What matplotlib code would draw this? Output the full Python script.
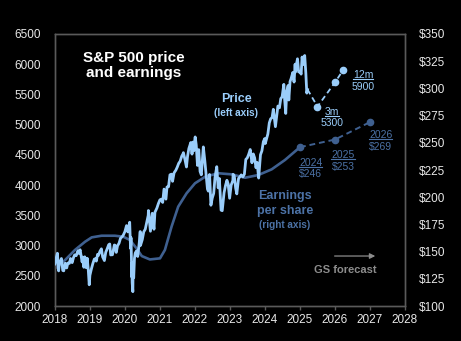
import matplotlib
matplotlib.use("Agg")
import matplotlib.pyplot as plt
import pandas as pd
import numpy as np
from matplotlib.lines import Line2D

plt.rcParams['font.family'] = ['Liberation Sans', 'DejaVu Sans']

# ---------------- data ----------------
price_dates = [
 "2018-01-02","2018-01-12","2018-01-26","2018-02-08","2018-02-16","2018-02-27","2018-03-09","2018-03-23",
 "2018-04-02","2018-04-18","2018-05-03","2018-05-15","2018-05-31","2018-06-12","2018-06-29","2018-07-13",
 "2018-07-25","2018-08-10","2018-08-29","2018-09-07","2018-09-20","2018-10-11","2018-10-17","2018-10-29",
 "2018-11-07","2018-11-23","2018-12-03","2018-12-14","2018-12-24","2018-12-31",
 "2019-01-15","2019-01-31","2019-02-15","2019-02-28","2019-03-08","2019-03-21","2019-03-29","2019-04-15",
 "2019-04-30","2019-05-13","2019-05-31","2019-06-14","2019-06-28","2019-07-15","2019-07-26","2019-08-05",
 "2019-08-15","2019-08-23","2019-09-12","2019-09-19","2019-10-02","2019-10-15","2019-10-31","2019-11-15",
 "2019-11-29","2019-12-13","2019-12-31",
 "2020-01-17","2020-01-31","2020-02-19","2020-02-28","2020-03-04","2020-03-09","2020-03-12","2020-03-13",
 "2020-03-16","2020-03-23","2020-03-26","2020-04-01","2020-04-09","2020-04-17","2020-04-30","2020-05-13",
 "2020-05-29","2020-06-08","2020-06-11","2020-06-30","2020-07-15","2020-07-31","2020-08-14","2020-08-31",
 "2020-09-02","2020-09-23","2020-10-12","2020-10-30","2020-11-09","2020-11-30","2020-12-15","2020-12-31",
 "2021-01-15","2021-01-29","2021-02-12","2021-03-04","2021-03-15","2021-03-31","2021-04-15","2021-04-30",
 "2021-05-12","2021-05-28","2021-06-15","2021-06-30","2021-07-15","2021-07-30","2021-08-16","2021-08-31",
 "2021-09-02","2021-09-17","2021-10-04","2021-10-15","2021-10-29","2021-11-18","2021-12-01","2021-12-10",
 "2021-12-20","2021-12-31",
 "2022-01-03","2022-01-14","2022-01-27","2022-02-09","2022-02-23","2022-03-08","2022-03-29","2022-04-14",
 "2022-04-29","2022-05-11","2022-05-20","2022-06-02","2022-06-16","2022-06-30","2022-07-15","2022-07-29",
 "2022-08-16","2022-08-31","2022-09-12","2022-09-30","2022-10-12","2022-10-31","2022-11-15","2022-11-30",
 "2022-12-13","2022-12-28",
 "2023-01-13","2023-01-31","2023-02-02","2023-02-15","2023-03-01","2023-03-13","2023-03-31","2023-04-14",
 "2023-04-28","2023-05-15","2023-05-31","2023-06-15","2023-06-30","2023-07-14","2023-07-31","2023-08-18",
 "2023-09-01","2023-09-15","2023-09-29","2023-10-11","2023-10-27","2023-11-15","2023-11-30","2023-12-15",
 "2023-12-29",
 "2024-01-04","2024-01-31","2024-02-15","2024-02-29","2024-03-15","2024-03-28","2024-04-19","2024-05-15",
 "2024-05-31","2024-06-14","2024-06-28","2024-07-16","2024-07-24","2024-08-05","2024-08-15","2024-08-30",
 "2024-09-06","2024-09-19","2024-09-30","2024-10-18","2024-10-31","2024-11-11","2024-11-15","2024-11-29",
 "2024-12-06","2024-12-18","2024-12-31",
 "2025-01-13","2025-01-23","2025-02-03","2025-02-19","2025-03-03","2025-03-13","2025-03-21",
]
price_values = [
 2695,2786,2873,2581,2732,2744,2786,2588,
 2582,2708,2630,2711,2705,2786,2718,2801,
 2846,2833,2914,2872,2931,2728,2809,2641,
 2814,2633,2790,2600,2351,2507,
 2610,2704,2776,2784,2743,2855,2834,2905,
 2946,2812,2752,2887,2942,3014,3026,2845,
 2848,2847,3009,3006,2887,2996,3038,3120,
 3141,3169,3231,
 3330,3226,3386,2954,3130,2747,2481,2711,
 2386,2237,2630,2470,2790,2875,2912,2820,
 3044,3232,3002,3100,3227,3271,3373,3500,
 3580,3237,3534,3270,3550,3622,3694,3756,
 3768,3714,3934,3768,3969,3973,4170,4181,
 4063,4204,4246,4298,4360,4395,4479,4523,
 4537,4433,4300,4471,4605,4704,4513,4712,
 4568,4766,
 4797,4663,4326,4587,4226,4170,4632,4393,
 4132,3935,3901,4176,3667,3785,3863,4130,
 4305,3955,4110,3586,3577,3872,3992,4080,
 4019,3783,
 3999,4077,4179,4148,3951,3855,4109,4137,
 4169,4136,4180,4426,4450,4505,4589,4370,
 4516,4450,4288,4376,4117,4502,4568,4719,
 4770,
 4688,4846,5029,5096,5117,5254,4967,5308,
 5278,5431,5460,5667,5427,5186,5543,5648,
 5408,5713,5762,5864,5705,6001,5870,6032,
 6090,5872,5882,
 5836,6119,5994,6144,5850,5522,5580,
]

eps_years = [2018.0, 2018.29, 2018.57, 2018.86, 2019.05, 2019.33, 2019.71, 2019.95, 2020.14,
             2020.33, 2020.48, 2020.71, 2021.0, 2021.14, 2021.33, 2021.52, 2021.76, 2022.0,
             2022.29, 2022.67, 2023.05, 2023.43, 2023.81, 2024.19, 2024.57, 2025.0]
eps_values = [134.6, 142.3, 151.5, 159.1, 163.1, 164.6, 164.6, 163.7, 160.7,
              153.0, 145.9, 142.8, 143.8, 151.5, 172.9, 191.3, 203.6, 212.8,
              218.8, 222.0, 221.0, 217.9, 220.4, 225.6, 234.2, 246.0]

price_fc_years = [2025.5, 2026.0, 2026.23]
price_fc_values = [5300, 5700, 5900]
eps_fc_years = [2025.0, 2026.0, 2027.0]
eps_fc_values = [246, 253, 269]

left_ticks = list(range(2000, 6501, 500))
right_ticks = list(range(100, 351, 25))
x_ticks = list(range(2018, 2029))

# ---------------- style ----------------
BG = "#000000"
PRICE_C = "#9ACDFA"
EPS_C = "#3F6090"
EPS_TXT = "#4C72A6"
TICK_C = "#E8E8E8"
SPINE_C = "#5A5A5A"

def to_year(d):
    t = pd.Timestamp(d)
    start = pd.Timestamp(year=t.year, month=1, day=1)
    end = pd.Timestamp(year=t.year + 1, month=1, day=1)
    return t.year + (t - start) / (end - start)

px = np.array([to_year(d) for d in price_dates])
py = np.array(price_values, dtype=float)

fig = plt.figure(figsize=(4.61, 3.41), dpi=100, facecolor=BG)
ax = fig.add_axes([0.1193, 0.1026, 0.7592, 0.7977], facecolor=BG)
ax2 = ax.twinx()

ax.set_xlim(2018, 2028)
ax.set_ylim(2000, 6500)
ax2.set_ylim(100, 350)

# EPS on right axis
ax2.plot(eps_years, eps_values, color=EPS_C, lw=1.9, solid_capstyle='round',
         solid_joinstyle='round', zorder=2)
ax2.plot(eps_fc_years, eps_fc_values, color=EPS_C, lw=1.4, ls=(0, (3, 2)), marker='o',
         markersize=4.5, zorder=2)

# Price on left axis (draw above)
ax.set_zorder(ax2.get_zorder() + 1)
ax.patch.set_visible(False)
ax2.patch.set_visible(True)
ax2.patch.set_facecolor(BG)
ax.plot(px, py, color=PRICE_C, lw=2.0, zorder=3)
ax.plot([px[-1]] + price_fc_years, [py[-1]] + price_fc_values, color=PRICE_C, lw=1.3,
        ls=(0, (3, 2)), zorder=3)
ax.plot(price_fc_years, price_fc_values, ls='none', marker='o',
        color=PRICE_C, markersize=4.5, zorder=4)

# ticks
ax.set_xticks(x_ticks)
ax.set_xticklabels([str(x) for x in x_ticks])
ax.set_yticks(left_ticks)
ax.set_yticklabels([str(v) for v in left_ticks])
ax2.set_yticks(right_ticks)
ax2.set_yticklabels(["$" + str(v) for v in right_ticks])

for a in (ax, ax2):
    for s in a.spines.values():
        s.set_color(SPINE_C)
        s.set_linewidth(1.0)
ax.tick_params(axis='x', colors=SPINE_C, labelcolor=TICK_C, labelsize=8.5, length=3, width=1,
               direction='out', pad=3)
ax.tick_params(axis='y', length=0, labelcolor=TICK_C, labelsize=8.5, pad=10)
ax2.tick_params(axis='y', length=0, labelcolor=TICK_C, labelsize=8.5, pad=10)

# texts
ax.text(0.2257, 0.885, "S&P 500 price\nand earnings", transform=ax.transAxes, ha='center',
        va='center', color='white', fontsize=11, fontweight='bold', linespacing=1.05, zorder=5)
ax.text(2023.17, 5425, "Price", color=PRICE_C, fontsize=9, fontweight='bold', ha='center',
        va='center', zorder=5)
ax.text(2023.17, 5193, "(left axis)", color=PRICE_C, fontsize=7.2, fontweight='bold',
        ha='center', va='center', zorder=5)
ax.text(2024.57, 3820, "Earnings", color=EPS_TXT, fontsize=9, fontweight='bold', ha='center',
        va='center', zorder=5)
ax.text(2024.57, 3572, "per share", color=EPS_TXT, fontsize=9, fontweight='bold', ha='center',
        va='center', zorder=5)
ax.text(2024.57, 3340, "(right axis)", color=EPS_TXT, fontsize=7.2, fontweight='bold',
        ha='center', va='center', zorder=5)
ax.text(2026.29, 2596, "GS forecast", color="#8C8C8C", fontsize=8, fontweight='bold',
        ha='center', va='center', zorder=5)
ax.annotate("", xy=(2027.23, 2827), xytext=(2025.91, 2827),
            arrowprops=dict(arrowstyle='-|>', color="#8C8C8C", lw=0.9, mutation_scale=8), zorder=5)

underlined = []
def label(x, y1, y2, top, bottom, color):
    t = ax.text(x, y1, top, color=color, fontsize=7.5, ha='center', va='center', zorder=5)
    ax.text(x, y2, bottom, color=color, fontsize=7.5, ha='center', va='center', zorder=5)
    underlined.append((t, color))

label(2026.80, 5822, 5623, "12m", "5900", PRICE_C)
label(2025.91, 5210, 5028, "3m", "5300", PRICE_C)
label(2025.31, 4366, 4184, "2024", "$246", EPS_TXT)
label(2026.23, 4498, 4300, "2025", "$253", EPS_TXT)
label(2027.31, 4829, 4631, "2026", "$269", EPS_TXT)

fig.canvas.draw()
r = fig.canvas.get_renderer()
inv = fig.transFigure.inverted()
for t, c in underlined:
    bb = t.get_window_extent(r)
    (x0, y0), (x1, _) = inv.transform([(bb.x0, bb.y0), (bb.x1, bb.y0)])
    fig.add_artist(Line2D([x0, x1], [y0 + 0.002, y0 + 0.002], transform=fig.transFigure,
                          color=c, lw=0.8))

fig.savefig("out.png", dpi=100, facecolor=BG)
